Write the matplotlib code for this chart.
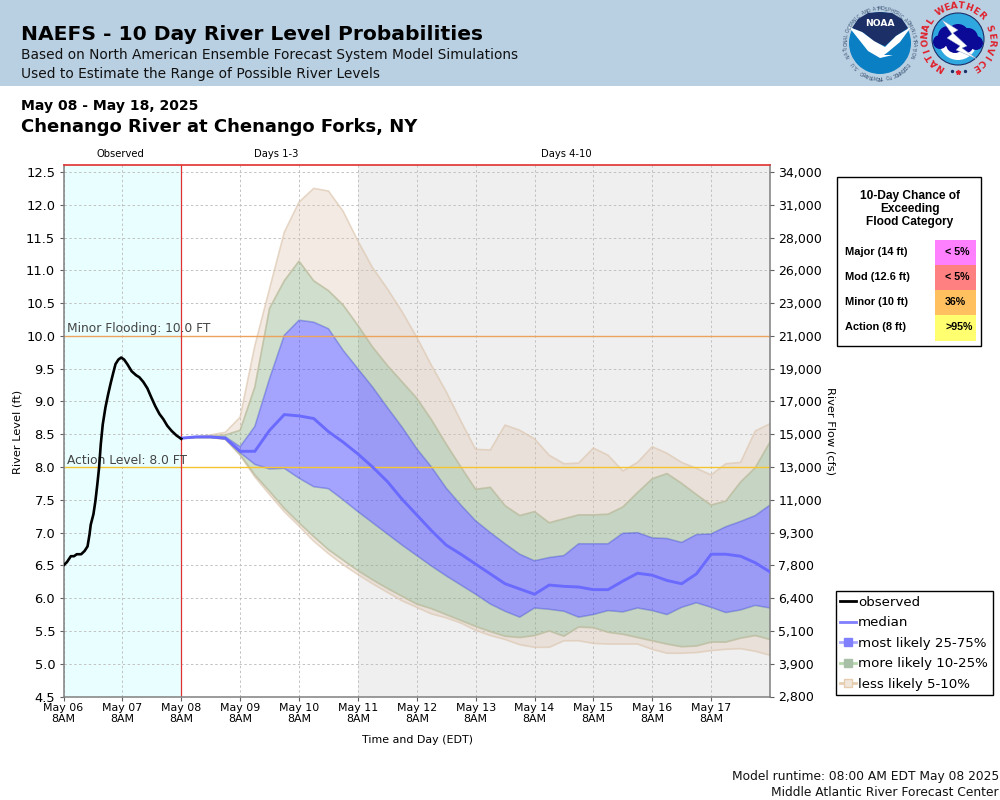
import numpy as np
import matplotlib
matplotlib.use("Agg")
import matplotlib.pyplot as plt
from matplotlib.lines import Line2D
from matplotlib.patches import Circle, Polygon, Rectangle, Wedge

# ── Data ──────────────────────────────────────────────────────────────────────

obs_hours = [0, 1.4, 3, 4.3, 5.4, 7.2, 8.6, 9.8, 10.6, 11.1, 12.2, 13, 13.8, 14.5, 15.2,
             16, 17.1, 18.2, 19.3, 20.3, 21.2, 22.4, 23.5, 24.7, 26, 27.8, 29.6, 30.9,
             32.5, 34.2, 35.7, 37.4, 39.1, 40.7, 42.3, 44.1, 46.1, 48]
obs_level = [6.50, 6.55, 6.64, 6.64, 6.67, 6.67, 6.72, 6.79, 6.97, 7.12, 7.28, 7.48, 7.74,
             7.99, 8.35, 8.65, 8.91, 9.11, 9.29, 9.44, 9.57, 9.64, 9.67, 9.64, 9.57, 9.46,
             9.40, 9.37, 9.30, 9.20, 9.07, 8.93, 8.81, 8.73, 8.63, 8.55, 8.48, 8.43]

fc_hours = [48, 54, 60, 66, 72, 78, 84, 90, 96, 102, 108, 114, 120, 126, 132, 138, 144,
            150, 156, 162, 168, 174, 180, 186, 192, 198, 204, 210, 216, 222, 228, 234,
            240, 246, 252, 258, 264, 270, 276, 282, 288]

q95 = [8.44, 8.46, 8.49, 8.53, 8.76, 9.85, 10.72, 11.58, 12.04, 12.25, 12.21, 11.90, 11.45,
       11.04, 10.72, 10.37, 9.98, 9.55, 9.15, 8.70, 8.27, 8.26, 8.64, 8.56, 8.43, 8.18,
       8.05, 8.06, 8.29, 8.18, 7.94, 8.07, 8.31, 8.21, 8.07, 7.98, 7.88, 8.05, 8.07, 8.55, 8.66]
q90 = [8.44, 8.46, 8.47, 8.49, 8.56, 9.22, 10.42, 10.84, 11.14, 10.84, 10.69, 10.47, 10.16,
       9.83, 9.55, 9.30, 9.05, 8.72, 8.35, 8.00, 7.66, 7.69, 7.41, 7.26, 7.32, 7.15,
       7.21, 7.27, 7.27, 7.28, 7.39, 7.61, 7.82, 7.90, 7.75, 7.58, 7.42, 7.48, 7.77, 7.99, 8.38]
q75 = [8.44, 8.46, 8.46, 8.46, 8.31, 8.62, 9.35, 10.01, 10.24, 10.21, 10.11, 9.78, 9.50,
       9.22, 8.91, 8.61, 8.28, 8.00, 7.68, 7.42, 7.18, 7.00, 6.83, 6.67, 6.57, 6.62,
       6.65, 6.83, 6.83, 6.83, 6.99, 7.00, 6.92, 6.91, 6.85, 6.97, 6.98, 7.09, 7.17, 7.26, 7.42]
median = [8.44, 8.46, 8.46, 8.44, 8.24, 8.24, 8.56, 8.80, 8.78, 8.74, 8.54, 8.38, 8.20,
          8.00, 7.78, 7.51, 7.27, 7.03, 6.81, 6.67, 6.52, 6.37, 6.22, 6.14, 6.06, 6.20,
          6.18, 6.17, 6.13, 6.13, 6.26, 6.38, 6.35, 6.27, 6.22, 6.37, 6.67, 6.67, 6.64, 6.54, 6.40]
q25 = [8.44, 8.45, 8.45, 8.43, 8.22, 8.04, 7.97, 7.98, 7.83, 7.70, 7.67, 7.50, 7.32,
       7.15, 6.98, 6.81, 6.65, 6.49, 6.34, 6.20, 6.06, 5.91, 5.80, 5.71, 5.85, 5.83,
       5.80, 5.71, 5.75, 5.81, 5.79, 5.85, 5.81, 5.75, 5.86, 5.93, 5.86, 5.78, 5.82, 5.89, 5.85]
q10 = [8.44, 8.45, 8.45, 8.43, 8.19, 7.88, 7.63, 7.37, 7.15, 6.94, 6.74, 6.58, 6.42,
       6.28, 6.15, 6.03, 5.91, 5.84, 5.75, 5.66, 5.57, 5.49, 5.42, 5.40, 5.43, 5.50,
       5.42, 5.56, 5.55, 5.48, 5.45, 5.40, 5.35, 5.30, 5.26, 5.27, 5.33, 5.33, 5.39, 5.43, 5.37]
q5 = [8.44, 8.45, 8.45, 8.42, 8.18, 7.85, 7.58, 7.32, 7.10, 6.87, 6.68, 6.51, 6.36,
      6.22, 6.09, 5.96, 5.86, 5.76, 5.70, 5.62, 5.51, 5.43, 5.37, 5.29, 5.25, 5.25,
      5.35, 5.35, 5.31, 5.30, 5.30, 5.30, 5.22, 5.16, 5.16, 5.17, 5.20, 5.22, 5.23, 5.19, 5.13]

day_hours = [0, 24, 48, 72, 96, 120, 144, 168, 192, 216, 240, 264]
day_labels = ["May 06", "May 07", "May 08", "May 09", "May 10", "May 11",
              "May 12", "May 13", "May 14", "May 15", "May 16", "May 17"]
level_ticks = [4.5, 5.0, 5.5, 6.0, 6.5, 7.0, 7.5, 8.0, 8.5, 9.0, 9.5, 10.0, 10.5, 11.0, 11.5, 12.0, 12.5]
flow_labels = ["2,800", "3,900", "5,100", "6,400", "7,800", "9,300", "11,000", "13,000", "15,000",
               "17,000", "19,000", "21,000", "23,000", "26,000", "28,000", "31,000", "34,000"]

flood_names = ["Major (14 ft)", "Mod (12.6 ft)", "Minor (10 ft)", "Action (8 ft)"]
flood_chance = ["< 5%", "< 5%", "36%", ">95%"]

# ── Colours ───────────────────────────────────────────────────────────────────

BLUE = "#4141ff"
GREEN = "#82aa7d"
TAN = "#dec8b2"
RED = "#e03030"
NAVY = "#1c2f66"

fig = plt.figure(figsize=(10, 8), dpi=100, facecolor="white")

# overlay in pixel coordinates for the header, logos and flood box
pix = fig.add_axes([0, 0, 1, 1], zorder=0)
pix.set_xlim(0, 1000)
pix.set_ylim(800, 0)
pix.axis("off")

ax = fig.add_axes([63.5 / 1000, 103.5 / 800, 706.5 / 1000, 531.5 / 800], zorder=1)
ax.set_facecolor("none")
ax.set_xlim(0, 288)
ax.set_ylim(4.5, 12.607)

# ── Plot ──────────────────────────────────────────────────────────────────────

ax.axvspan(0, 48, color="#e9ffff", lw=0, zorder=0)
ax.axvspan(120, 288, color="#efefef", lw=0, zorder=0)
ax.set_axisbelow(True)
ax.grid(True, color="#c2c2c2", linestyle=(0, (2.5, 2.5)), linewidth=0.7)


def band(lo, hi, color, edge_alpha, fill_alpha=0.4):
    ax.fill_between(fc_hours, lo, hi, facecolor=color, alpha=fill_alpha, lw=0, zorder=1)
    ax.plot(fc_hours, lo, color=color, lw=1.2, alpha=edge_alpha, zorder=1.1)
    ax.plot(fc_hours, hi, color=color, lw=1.2, alpha=edge_alpha, zorder=1.1)


band(q90, q95, TAN, 0.7, 0.36)
band(q5, q10, TAN, 0.7, 0.36)
band(q75, q90, GREEN, 0.3, 0.38)
band(q10, q25, GREEN, 0.3, 0.38)
ax.fill_between(fc_hours, q25, q75, facecolor=BLUE, alpha=0.48, lw=0, zorder=1.2)
ax.plot(fc_hours, q25, color=BLUE, lw=1.0, alpha=0.3, zorder=1.3)
ax.plot(fc_hours, q75, color=BLUE, lw=1.0, alpha=0.3, zorder=1.3)

ax.axhline(10, color="#eda35c", lw=1.0, zorder=1.5)
ax.axhline(8, color="#f5c431", lw=1.0, zorder=1.5)
ax.axvline(48, color=RED, lw=0.9, zorder=1.5)
ax.text(1.5, 10.02, "Minor Flooding: 10.0 FT", fontsize=8.85, color="#444444", va="bottom")
ax.text(1.5, 8.0, "Action Level: 8.0 FT", fontsize=8.85, color="#444444", va="bottom")

ax.plot(fc_hours, median, color="#6a6aff", lw=2.1, zorder=3, solid_joinstyle="miter")
ax.plot(obs_hours, obs_level, color="black", lw=1.9, zorder=4)

ax.set_xticks(day_hours)
ax.set_xticklabels([f"{d}\n8AM" for d in day_labels], fontsize=7.9, linespacing=1.08)
ax.set_yticks(level_ticks)
ax.tick_params(axis="y", labelsize=9.4, length=3, color="#606060", pad=3)
ax.tick_params(axis="x", length=3, color="#606060", pad=2)
for side in ("left", "right", "bottom"):
    ax.spines[side].set_color("#808080")
    ax.spines[side].set_linewidth(1.1)
ax.spines["top"].set_color(RED)
ax.spines["top"].set_linewidth(1.2)

ax2 = ax.twinx()
ax2.set_ylim(ax.get_ylim())
ax2.set_yticks(level_ticks)
ax2.set_yticklabels(flow_labels)
ax2.tick_params(axis="y", labelsize=9.0, length=3, color="#606060", pad=3)
for side in ax2.spines.values():
    side.set_visible(False)

handles = [
    Line2D([0], [0], color="black", lw=2, label="observed"),
    Line2D([0], [0], color="#7f7fff", lw=2, label="median"),
    Line2D([0], [0], color="#a8a8ff", lw=2, marker="s", ms=6, mfc="#8080ff", mec="#8080ff", label="most likely 25-75%"),
    Line2D([0], [0], color="#b5d8ac", lw=2, marker="s", ms=6, mfc="#a8c0a8", mec="#a8c0a8", label="more likely 10-25%"),
    Line2D([0], [0], color="#e6cdb0", lw=2, marker="s", ms=6, mfc="#f0e6da", mec="#e6cdb0", label="less likely 5-10%"),
]
leg = ax2.legend(handles=handles, loc="upper left", bbox_to_anchor=(835.5 / 1000, 1 - 591 / 800),
                 bbox_transform=fig.transFigure, borderaxespad=0, fontsize=9.6, fancybox=False,
                 framealpha=1, edgecolor="black", handlelength=1.2, handletextpad=0.12,
                 labelspacing=0.56, borderpad=0.36)
leg.get_frame().set_linewidth(1.0)

# ── Header and page text ──────────────────────────────────────────────────────

pix.add_patch(Rectangle((0, 0), 1000, 86, facecolor="#b9d0e3", lw=0))
pix.text(21, 40, "NAEFS - 10 Day River Level Probabilities", fontsize=14.55, fontweight="bold")
pix.text(21, 59, "Based on North American Ensemble Forecast System Model Simulations", fontsize=9.95, color="#111111")
pix.text(21, 78, "Used to Estimate the Range of Possible River Levels", fontsize=9.95, color="#111111")
pix.text(21, 110, "May 08 - May 18, 2025", fontsize=10.1, fontweight="bold")
pix.text(21, 132, "Chenango River at Chenango Forks, NY", fontsize=12.95, fontweight="bold")

pix.text(120, 157, "Observed", fontsize=7.2, ha="center")
pix.text(276.5, 157, "Days 1-3", fontsize=7.2, ha="center")
pix.text(566, 157, "Days 4-10", fontsize=7.2, ha="center")

pix.text(417, 743, "Time and Day (EDT)", fontsize=7.9, ha="center")
pix.text(18, 432, "River Level (ft)", fontsize=8.2, rotation=90, ha="center", va="center")
pix.text(831, 431, "River Flow (cfs)", fontsize=8.2, rotation=270, ha="center", va="center")
pix.text(999, 780, "Model runtime: 08:00 AM EDT May 08 2025", fontsize=8.85, ha="right", color="#111111")
pix.text(999, 796, "Middle Atlantic River Forecast Center", fontsize=8.85, ha="right", color="#111111")

# ── Flood category box ────────────────────────────────────────────────────────

pix.add_patch(Rectangle((836.5, 176.5), 144, 169, facecolor="white", edgecolor="black", lw=1))
box_font = "Liberation Sans"
for i, line in enumerate(["10-Day Chance of", "Exceeding", "Flood Category"]):
    pix.text(910, 199 + i * 13, line, family=box_font, fontweight="bold", fontsize=8.6, ha="center")
cell_colors = ["#ff80ff", "#ff8080", "#ffc060", "#ffff70"]
cell_tops = [240, 265, 290, 315]
cell_bottoms = [265, 290, 315, 341]
for name, chance, color, top, bottom in zip(flood_names, flood_chance, cell_colors, cell_tops, cell_bottoms):
    pix.add_patch(Rectangle((935, top), 41, bottom - top, facecolor=color, lw=0))
    pix.text(845, top + 15, name, family=box_font, fontweight="bold", fontsize=7.9)
    pix.text(945, top + 15, chance, family=box_font, fontweight="bold", fontsize=7.7)


# ── Logos ─────────────────────────────────────────────────────────────────────

def ring_text(text, cx, cy, r, start, stop, **kw):
    for ch, ang in zip(text, np.linspace(start, stop, len(text))):
        a = np.deg2rad(ang)
        pix.text(cx + r * np.sin(a), cy - r * np.cos(a), ch, rotation=-ang,
                 rotation_mode="anchor", ha="center", va="center", **kw)


# NOAA
pix.add_patch(Wedge((880, 43), 31, 0, 360, facecolor="#0a7fc4", lw=0))
pix.add_patch(Polygon([(852, 28), (858, 19), (868, 13), (880, 12), (892, 13), (902, 19), (908, 28),
                       (896, 36), (885, 46), (875, 42), (864, 33)], facecolor=NAVY, lw=0))
pix.add_patch(Polygon([(849, 27), (862, 32), (874, 41), (885, 47), (896, 36), (911, 27),
                       (900, 42), (888, 52), (884, 55), (893, 55), (880, 58), (868, 51)],
                      facecolor="white", lw=0))
pix.text(880, 24, "NOAA", color="white", fontsize=6.6, fontweight="bold", ha="center", va="center")
ring_text("NATIONAL OCEANIC AND ATMOSPHERIC ADMINISTRATION", 880, 43, 34, -112, 112,
          fontsize=3.3, color="#37506e")
ring_text("U.S. DEPARTMENT OF COMMERCE", 880, 43, 34, -128, -232, fontsize=3.3, color="#37506e")

# NWS
pix.add_patch(Circle((958, 39), 26, facecolor="#2fa8e0", edgecolor=NAVY, lw=0.8))
pix.add_patch(Wedge((958, 41), 19, 10, 170, facecolor="white", lw=0))
for cx, cy, r in [(940, 42, 7), (948, 36, 10), (958, 35, 11), (968, 38, 10), (976, 43, 7), (955, 44, 9), (966, 46, 7)]:
    pix.add_patch(Circle((cx, cy), r, facecolor="#0a0a96", lw=0))
pix.add_patch(Polygon([(942, 20), (958, 30), (953, 33), (967, 46), (962, 48), (977, 59), (956, 50),
                       (960, 46), (947, 38), (952, 34)], facecolor="white", edgecolor="#8aa0c8", lw=0.3))
ring_text("NATIONAL WEATHER SERVICE", 958, 39, 33, -148, 148, fontsize=6.6, fontweight="bold", color="#e0202a")
pix.plot([952, 965], [71, 71], ls="none", marker="o", ms=1.4, color=NAVY)
pix.plot([958], [72], ls="none", marker="*", ms=3.5, color="#e0202a")

fig.savefig("out.png", dpi=100)
plt.close(fig)
